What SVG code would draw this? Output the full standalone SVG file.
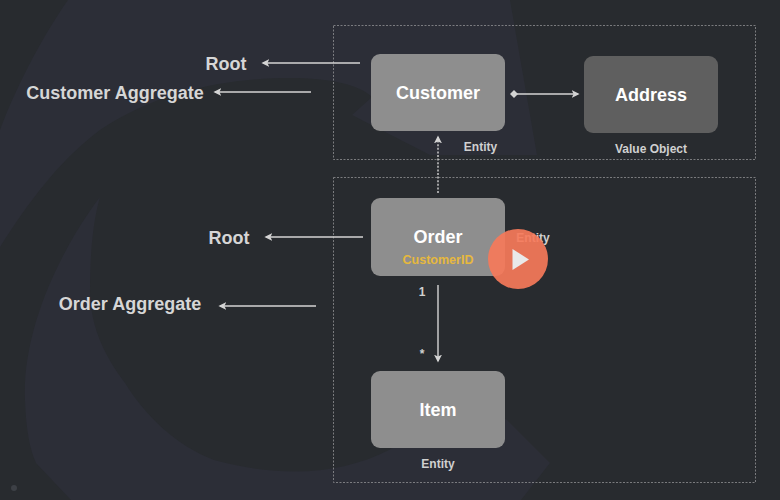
<svg xmlns="http://www.w3.org/2000/svg" width="780" height="500" viewBox="0 0 780 500">
<style>
.bg{fill:#2c2e37}
.box{fill:#8e8e8e}
.vo{fill:#5f5f5f}
.frame{fill:none;stroke:#8f9193;stroke-width:.8;stroke-dasharray:2 1.5}
.t{font-family:"Liberation Sans",Arial,sans-serif;font-weight:700;text-anchor:middle}
.big{font-size:18px;fill:#fff}
.lab{font-size:18px;fill:#d6d6d6}
.small{font-size:12px;fill:#d0d0d0}
.line{fill:none;stroke:#d4d4d4;stroke-width:1.4}
</style>
<defs>
<marker id="ah" viewBox="0 0 10 10" refX="8" refY="5" markerWidth="8" markerHeight="8" markerUnits="userSpaceOnUse" orient="auto-start-reverse"><path d="M0 0L10 5L0 10L2.500 5Z" fill="#d4d4d4"/></marker>
<marker id="dia" viewBox="0 0 10 10" refX="5" refY="5" markerWidth="8" markerHeight="8" markerUnits="userSpaceOnUse"><path d="M5 0L10 5L5 10L0 5Z" fill="#d4d4d4"/></marker>
</defs>
<rect width="780" height="500" fill="#282b2f"/>
<path class="bg" d="M68 0C40 40 15 90 0 130V247C30 200 60 160 100 130C160 90 230 78 290 78C330 78 360 85 372 97L352 115L430 155H537L510 0Z"/>
<path class="bg" d="M100 197C60 250 22 330 25 400C26 430 30 450 36 463L71 500H521L550 463L507 420L470 400L389 450C340 475 280 478 214 460C175 445 145 415 125 383C100 350 90 320 90 290C90 260 92 225 100 197Z"/>
<circle cx="14" cy="488" r="3" fill="#3d4046"/>

<g id="frames">
<rect id="customer-aggregate-frame" class="frame" x="333.500" y="25.500" width="422" height="134"/>
<rect id="order-aggregate-frame" class="frame" x="333.500" y="177.500" width="422" height="305"/>
</g>

<g id="connectors">
<path class="line" d="M360 63H263" marker-end="url(#ah)"/>
<path class="line" d="M311 92H215" marker-end="url(#ah)"/>
<path class="line" d="M363 237H266" marker-end="url(#ah)"/>
<path class="line" d="M316 306H220" marker-end="url(#ah)"/>
<path class="line" d="M514 94H578" marker-start="url(#dia)" marker-end="url(#ah)"/>
<path class="line" d="M438 193V137" stroke-dasharray="2 1.6" marker-end="url(#ah)"/>
<path class="line" d="M438 285V361" marker-end="url(#ah)"/>
</g>

<g id="customer">
<rect class="box" x="371" y="54" width="134" height="77" rx="9"/>
<text class="t big" x="438" y="99">Customer</text>
<text class="t small" x="480.500" y="151">Entity</text>
</g>
<g id="address">
<rect class="vo" x="584" y="56" width="134" height="77" rx="9"/>
<text class="t big" x="651" y="101">Address</text>
<text class="t small" x="651" y="153">Value Object</text>
</g>
<g id="order">
<rect class="box" x="371" y="198" width="134" height="78" rx="9"/>
<text class="t big" x="438" y="243">Order</text>
<text class="t" x="438" y="264" font-size="12.500" fill="#e6b83e">CustomerID</text>
<text class="t small" x="533" y="242">Entity</text>
</g>
<g id="item">
<rect class="box" x="371" y="371" width="134" height="77" rx="9"/>
<text class="t big" x="438" y="416">Item</text>
<text class="t small" x="438" y="468">Entity</text>
</g>

<g id="labels">
<text class="t lab" x="226" y="70">Root</text>
<text class="t lab" x="115" y="99">Customer Aggregate</text>
<text class="t lab" x="229" y="244">Root</text>
<text class="t lab" x="130" y="310">Order Aggregate</text>
<text class="t small" x="422" y="296">1</text>
<text class="t small" x="422" y="358">*</text>
</g>

<g id="play">
<circle cx="518" cy="259" r="30" fill="#f67a5a" fill-opacity=".92"/>
<path d="M512.500 249L529 259.500L512.500 270Z" fill="#e9e9e9"/>
</g>
</svg>
